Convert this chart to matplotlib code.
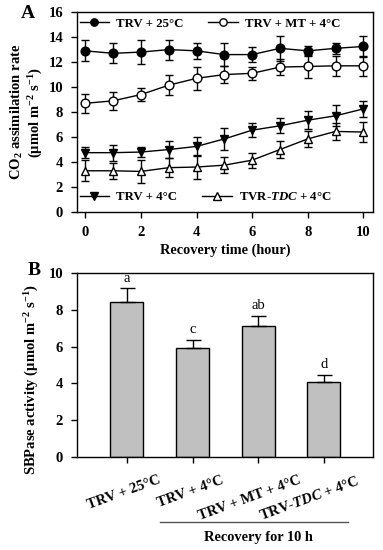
import matplotlib
matplotlib.use("Agg")
import matplotlib.pyplot as plt
import matplotlib.transforms as mtransforms
from matplotlib.lines import Line2D
import numpy as np

plt.rcParams['font.family'] = ['Liberation Serif', 'DejaVu Serif']
plt.rcParams['font.weight'] = 'bold'
plt.rcParams['mathtext.fontset'] = 'custom'
plt.rcParams['mathtext.rm'] = 'Liberation Serif:bold'
plt.rcParams['mathtext.bf'] = 'Liberation Serif:bold'
plt.rcParams['mathtext.it'] = 'Liberation Serif:bold:italic'
plt.rcParams['mathtext.default'] = 'bf'

# ---- Panel A data ----
hours = [0, 1, 2, 3, 4, 5, 6, 7, 8, 9, 10]
trv25 = [12.9, 12.7, 12.8, 13.0, 12.9, 12.6, 12.6, 13.1, 12.9, 13.1, 13.25]
trv25_err = [0.85, 0.8, 0.95, 0.8, 0.65, 0.95, 0.6, 1.0, 0.4, 0.45, 0.85]
trvmt = [8.7, 8.9, 9.4, 10.15, 10.7, 11.0, 11.1, 11.6, 11.65, 11.7, 11.7]
trvmt_err = [0.75, 0.7, 0.55, 0.8, 0.9, 0.7, 0.5, 0.65, 0.9, 0.8, 0.8]
trv4 = [4.75, 4.75, 4.8, 5.0, 5.25, 5.85, 6.55, 6.9, 7.35, 7.7, 8.25]
trv4_err = [0.45, 0.65, 0.4, 0.7, 0.75, 0.85, 0.55, 0.6, 0.7, 0.85, 0.65]
tdc4 = [3.3, 3.3, 3.25, 3.55, 3.6, 3.75, 4.15, 5.0, 5.85, 6.45, 6.4]
tdc4_err = [0.85, 0.65, 0.95, 0.75, 0.95, 0.65, 0.6, 0.7, 0.65, 0.7, 0.8]

# ---- Panel B data ----
groups = ['TRV + 25\u00b0C', 'TRV + 4\u00b0C', 'TRV + MT + 4\u00b0C', 'TRV-$\\mathit{TDC}$ + 4\u00b0C']
sbpase = [8.4, 5.9, 7.1, 4.1]
sbpase_err = [0.75, 0.45, 0.55, 0.35]
letters = ['a', 'c', 'ab', 'd']

fig = plt.figure(figsize=(3.83, 5.5), dpi=100)

axA = fig.add_axes([0.201, 0.6145, 0.773, 0.3635])
ekw = dict(color='black', lw=1.0, capsize=2.7, capthick=1.0, elinewidth=1.0, markersize=6.3, markeredgewidth=1.0)
series = [
    (trv25, trv25_err, 'o', 'black', 'TRV + 25\u00b0C'),
    (trvmt, trvmt_err, 'o', 'white', 'TRV + MT + 4\u00b0C'),
    (trv4, trv4_err, 'v', 'black', 'TRV + 4\u00b0C'),
    (tdc4, tdc4_err, '^', 'white', 'TVR-$\\mathit{TDC}$ + 4\u00b0C'),
]
handles = []
for y, e, m, fc, lab in series:
    axA.errorbar(hours, y, yerr=e, marker=m, mfc=fc, mec='black', **ekw)
    handles.append(Line2D([], [], color='black', lw=1.0, marker=m, mfc=fc, mec='black',
                          markersize=5.3, markeredgewidth=1.0, label=lab))
axA.set_xlim(-0.3, 10.35)
axA.set_ylim(0, 16)
axA.set_xticks([0, 2, 4, 6, 8, 10])
axA.set_yticks(range(0, 17, 2))
axA.tick_params(direction='out', length=4, width=1, labelsize=10.5, pad=6)
for s in axA.spines.values():
    s.set_linewidth(1.0)
axA.set_xlabel('Recovery time (hour)', fontsize=10.3, fontweight='bold', labelpad=3)
axA.set_ylabel('CO$_2$ assimilation rate\n(\u03bcmol m$^{-2}$ s$^{-1}$)', fontsize=10.5, fontweight='bold', linespacing=1.1)
axA.yaxis.set_label_coords(-0.108, 0.5)
lkw = dict(ncol=2, frameon=False, fontsize=9.3, handlelength=2.3, columnspacing=1.9,
           handletextpad=0.55, borderpad=0.2, borderaxespad=0.0)
leg1 = axA.legend(handles=handles[:2], loc='upper left', bbox_to_anchor=(0.0, 0.985), **lkw)
axA.add_artist(leg1)
axA.legend(handles=handles[2:], loc='lower left', bbox_to_anchor=(0.0, 0.03), **lkw)
fig.text(0.072, 0.975, 'A', fontsize=14, fontweight='bold', ha='center', va='center')

axB = fig.add_axes([0.201, 0.169, 0.773, 0.335])
x = np.arange(len(groups))
axB.bar(x, sbpase, width=0.5, color='#c0c0c0', edgecolor='black', linewidth=1.0,
        yerr=[[0] * len(sbpase_err), sbpase_err],
        error_kw=dict(ecolor='black', elinewidth=1.0, capsize=5.4, capthick=1.0), zorder=2)
for xi, v, e, t in zip(x, sbpase, sbpase_err, letters):
    axB.text(xi, v + e + 0.2, t, ha='center', va='bottom', fontsize=10.5, fontweight='normal')
axB.set_xlim(-0.76, 3.75)
axB.set_ylim(0, 10)
axB.set_yticks(range(0, 11, 2))
axB.set_xticks(x)
axB.set_xticklabels(groups, rotation=20, ha='center', va='top', fontsize=9.5, fontweight='bold')
axB.tick_params(direction='out', length=4, width=1, labelsize=10.5, pad=6)
axB.tick_params(axis='x', pad=8)
offsets = [-3, -2, -8, -14]
for lbl, dx in zip(axB.get_xticklabels(), offsets):
    lbl.set_transform(lbl.get_transform() + mtransforms.ScaledTranslation(dx / 100, 0, fig.dpi_scale_trans))
for s in axB.spines.values():
    s.set_linewidth(1.0)
axB.set_ylabel('SBPase activity (\u03bcmol m$^{-2}$ s$^{-1}$)', fontsize=10.5, fontweight='bold')
axB.yaxis.set_label_coords(-0.12, 0.42)
fig.text(0.088, 0.509, 'B', fontsize=14, fontweight='bold', ha='center', va='center')

fig.add_artist(Line2D([160/383, 348/383], [1 - 522/550, 1 - 522/550], color='#555555', lw=1.0))
fig.text(258/383, 1 - 537/550, 'Recovery for 10 h', ha='center', va='center', fontsize=10.4, fontweight='bold')

fig.savefig('out.png', dpi=100)
